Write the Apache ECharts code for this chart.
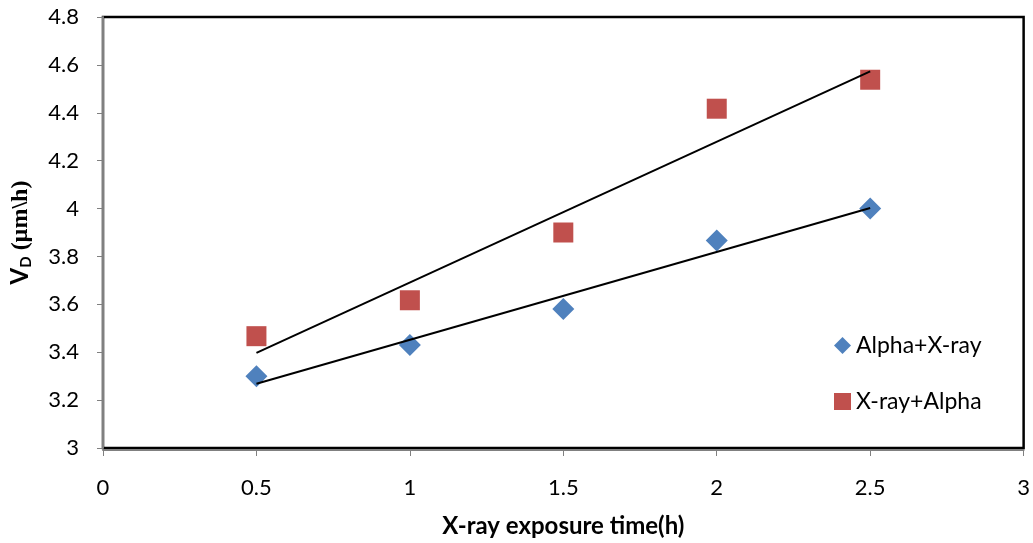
<!DOCTYPE html>
<html><head><meta charset="utf-8">
<script src="https://cdn.jsdelivr.net/npm/echarts@6/dist/echarts.min.js"></script>
<style>html,body{margin:0;padding:0;background:#fff}#c{width:1033px;height:543px}</style>
</head><body><div id="c"></div>
<script>
var xValues = [0.5, 1, 1.5, 2, 2.5];
var alphaXray = [3.30, 3.43, 3.58, 3.867, 4.0];
var xrayAlpha = [3.467, 3.617, 3.90, 4.417, 4.538];
var trendX = [0.5, 2.5];
var trendAlphaXray = [3.268, 4.002];
var trendXrayAlpha = [3.397, 4.573];

function pairs(xs, ys){ return xs.map(function(x,i){return [x, ys[i]];}); }
var font = 'Lato, "Open Sans", sans-serif';
var serif = '"Liberation Serif", "DejaVu Serif", serif';
var chart = echarts.init(document.getElementById('c'));
chart.setOption({
  animation: false,
  backgroundColor: '#fff',
  grid: {left: 103, right: 7, top: 17, bottom: 95, show: true, borderColor: '#000', borderWidth: 2.5, backgroundColor: 'transparent'},
  xAxis: {
    type: 'value', min: 0, max: 3, interval: 0.5, offset: 2,
    name: 'X-ray exposure time(h)', nameLocation: 'middle', nameGap: 64,
    nameTextStyle: {fontFamily: font, fontSize: 24, fontWeight: 'bold', color: '#000'},
    axisLine: {show: true, onZero: false, lineStyle: {color: '#808080', width: 2}},
    axisTick: {show: true, length: 6, lineStyle: {color: '#808080', width: 1}},
    axisLabel: {fontFamily: font, fontSize: 22, color: '#000', margin: 27,
      formatter: function(v){ return String(v); }},
    splitLine: {show: false}
  },
  yAxis: {
    type: 'value', min: 3, max: 4.8, interval: 0.2, offset: 2,
    name: '{b|V}{s|D}{t| (µm\\h)}', nameLocation: 'middle', nameGap: 67, nameRotate: 90,
    nameTextStyle: {padding: [0, 0, 0, 0], rich: {
      b: {fontFamily: font, fontSize: 24, fontWeight: 'bold', color: '#000'},
      s: {fontFamily: font, fontSize: 15, fontWeight: 'bold', color: '#000', verticalAlign: 'bottom', padding: [12,0,0,0]},
      t: {fontFamily: serif, fontSize: 24, fontWeight: 'bold', color: '#000'}
    }},
    axisLine: {show: true, lineStyle: {color: '#808080', width: 2}},
    axisTick: {show: true, length: 6, lineStyle: {color: '#808080', width: 1}},
    axisLabel: {fontFamily: font, fontSize: 22, color: '#000', margin: 22,
      formatter: function(v){ return String(Math.round(v*10)/10); }},
    splitLine: {show: false}
  },
  legend: {
    orient: 'vertical', left: 829, top: 329, itemGap: 33, itemWidth: 17, itemHeight: 17,
    textStyle: {fontFamily: font, fontSize: 23, color: '#000'},
    data: [{name: 'Alpha+X-ray', icon: 'diamond'}, {name: 'X-ray+Alpha', icon: 'rect'}]
  },
  series: [
    {name: 'Alpha+X-ray', type: 'scatter', symbol: 'diamond', symbolSize: 22,
      itemStyle: {color: '#4F81BD', opacity: 1}, data: pairs(xValues, alphaXray), z: 3},
    {name: 'X-ray+Alpha', type: 'scatter', symbol: 'rect', symbolSize: 20,
      itemStyle: {color: '#C0504D', opacity: 1}, data: pairs(xValues, xrayAlpha), z: 3},
    {name: 'trend1', type: 'line', symbol: 'none', lineStyle: {color: '#000', width: 2},
      data: pairs(trendX, trendAlphaXray), z: 4},
    {name: 'trend2', type: 'line', symbol: 'none', lineStyle: {color: '#000', width: 2},
      data: pairs(trendX, trendXrayAlpha), z: 4}
  ]
});
</script></body></html>
